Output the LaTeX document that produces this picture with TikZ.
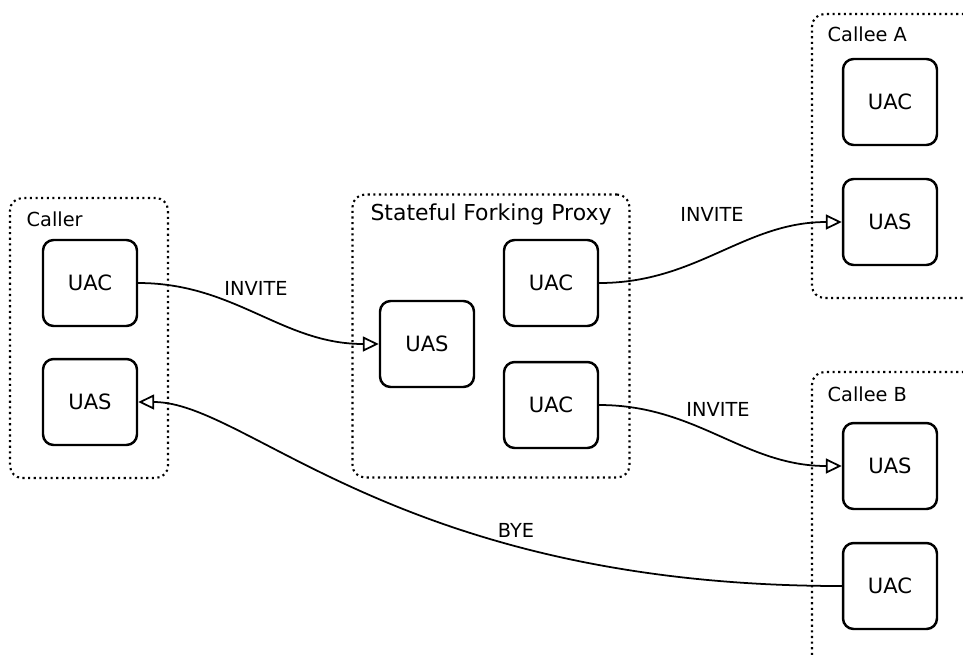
\documentclass[tikz,border=0pt]{standalone}
\usepackage{fontspec}
\setmainfont{DejaVu Sans}
\usetikzlibrary{arrows.meta}
\tikzset{>={Triangle[open,length=3.2mm,width=3mm]}}
\tikzset{
  agent/.style = {draw, line width=1.4pt, rounded corners=6pt, fill=white,
    minimum width=1.88cm, minimum height=1.72cm, font=\fontsize{12}{14}\selectfont},
  group/.style = {draw, dotted, line width=1.2pt, rounded corners=7pt},
  title/.style = {font=\fontsize{11}{13}\selectfont},
  msg/.style = {font=\fontsize{11}{13}\selectfont},
}

\begin{document}
\begin{tikzpicture}[x=0.02cm, y=-0.02cm, line width=1pt]
        \useasboundingbox (0,0) rectangle (963,657);
        \clip (0,0) rectangle (963,657);
        % groups
        \node[group, minimum width=3.16cm, minimum height=5.6cm] (caller) at (89,338) {};
        \node[group, minimum width=5.54cm, minimum height=5.66cm] (proxy) at (491,336) {};
        \node[group, minimum width=3.96cm, minimum height=5.68cm] (calleeA) at (911,156) {};
        \node[group, minimum width=3.96cm, minimum height=6.56cm] (calleeB) at (911,536) {};
        \node[title, anchor=west] (caller_title) at (20,219) {Caller};
        \node[font=\fontsize{12.5}{15}\selectfont] (proxy_title) at (491,214) {Stateful Forking Proxy};
        \node[title, anchor=west] (calleeA_title) at (821,34) {Callee A};
        \node[title, anchor=west] (calleeB_title) at (821,394) {Callee B};
        % agents
        \node[agent] (caller_uac) at (90,283) {UAC};
        \node[agent] (caller_uas) at (90,402) {UAS};
        \node[agent] (proxy_uas) at (427,344) {UAS};
        \node[agent] (proxy_uac1) at (551,283) {UAC};
        \node[agent] (proxy_uac2) at (551,405) {UAC};
        \node[agent] (calleeA_uac) at (890,102) {UAC};
        \node[agent] (calleeA_uas) at (890,222) {UAS};
        \node[agent] (calleeB_uas) at (890,466) {UAS};
        \node[agent] (calleeB_uac) at (890,586) {UAC};
        % messages
        \draw[->] (caller_uac.east) to[out=0, in=180] (proxy_uas.west);
        \draw[->] (proxy_uac1.east) to[out=0, in=180] (calleeA_uas.west);
        \draw[->] (proxy_uac2.east) to[out=0, in=180] (calleeB_uas.west);
        \draw[->] (calleeB_uac.west) .. controls +(-443,0) and +(110,0) .. (caller_uas.east);
        \node[msg] (invite1) at (256,288) {INVITE};
        \node[msg] (invite2) at (712,214) {INVITE};
        \node[msg] (invite3) at (718,409) {INVITE};
        \node[msg] (bye) at (516,530) {BYE};
      \end{tikzpicture}
\end{document}
